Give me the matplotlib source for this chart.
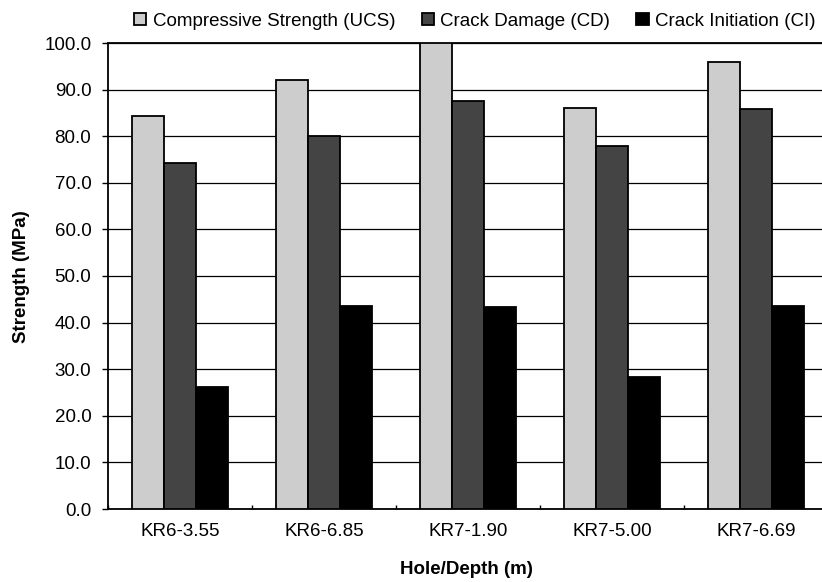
import matplotlib
matplotlib.use("Agg")
import matplotlib.pyplot as plt
import numpy as np
from matplotlib.ticker import FixedLocator, MultipleLocator, FormatStrFormatter

plt.rcParams['font.family'] = ['Liberation Sans', 'DejaVu Sans']

categories = ["KR6-3.55", "KR6-6.85", "KR7-1.90", "KR7-5.00", "KR7-6.69"]
ucs = [84.4, 92.0, 100.0, 86.1, 95.9]
cd = [74.3, 80.1, 87.6, 77.9, 85.9]
ci = [26.1, 43.6, 43.4, 28.4, 43.6]
series_names = ["Compressive Strength (UCS)", "Crack Damage (CD)", "Crack Initiation (CI)"]

W, H = 822, 582
fs = 13.5
fig = plt.figure(figsize=(W / 100, H / 100), dpi=100)
ax = fig.add_axes([108 / W, (H - 509) / H, 720 / W, 466 / H])

x = np.arange(len(categories))
bw = 1 / 4.5
colors = ["#cdcdcd", "#444444", "#000000"]
for i, (vals, name, col) in enumerate(zip([ucs, cd, ci], series_names, colors)):
    ax.bar(x + (i - 1) * bw, vals, width=bw, color=col, edgecolor="black",
           linewidth=1.3, label=name, zorder=3)

ax.set_xlim(-0.5, len(categories) - 0.5)
ax.set_ylim(0, 100)
ax.yaxis.set_major_locator(MultipleLocator(10))
ax.yaxis.set_major_formatter(FormatStrFormatter('%.1f'))
ax.grid(axis='y', color='black', linewidth=0.9, zorder=0)
ax.set_axisbelow(True)

ax.set_xticks(x)
ax.set_xticklabels(categories)
ax.xaxis.set_minor_locator(FixedLocator(np.arange(-0.5, len(categories), 1.0)))
ax.tick_params(axis='x', which='major', length=0, pad=10, labelsize=fs)
ax.tick_params(axis='x', which='minor', direction='in', length=3, width=1)
ax.tick_params(axis='y', which='major', direction='out', length=4, width=1, pad=8, labelsize=fs)

for s in ['left', 'bottom', 'top']:
    ax.spines[s].set_linewidth(1.3)
    ax.spines[s].set_color('black')
ax.spines['right'].set_visible(False)

fig.text(22 / W, 1 - 277 / H, "Strength (MPa)", rotation=90, ha='center', va='center',
         fontsize=fs, fontweight='bold')
fig.text(466 / W, 1 - 570 / H, "Hole/Depth (m)", ha='center', va='center',
         fontsize=fs, fontweight='bold')

fig.legend(loc='center left', bbox_to_anchor=(134 / W, 1 - 21 / H), ncol=3, frameon=False,
           fontsize=fs, handlelength=0.65, handleheight=0.65, handletextpad=0.35,
           columnspacing=1.4, borderpad=0, borderaxespad=0)

fig.savefig("out.png", dpi=100)
